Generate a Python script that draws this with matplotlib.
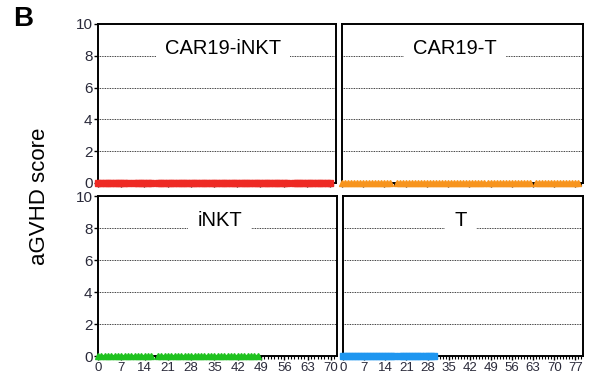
import numpy as np
import matplotlib
matplotlib.use("Agg")
import matplotlib.pyplot as plt
from matplotlib.ticker import MultipleLocator

plt.rcParams['font.family'] = ['Liberation Sans', 'DejaVu Sans']

nan = np.nan

# days after injection, aGVHD score (nan = no measurement that day)
car19_inkt_days = [0, 1, 2, 3, 4, 5, 6, 7, 8, 9, 10, 11, 12, 13, 14, 15, 16, 17, 18, 19,
                   20, 21, 22, 23, 24, 25, 26, 27, 28, 29, 30, 31, 32, 33, 34, 35, 36, 37, 38, 39,
                   40, 41, 42, 43, 44, 45, 46, 47, 48, 49, 50, 51, 52, 53, 54, 55, 56, 57, 58, 59,
                   60, 61, 62, 63, 64, 65, 66, 67, 68, 69, 70]
car19_inkt_score = [0, 0, 0, 0, 0, 0, 0, 0, 0, 0, nan, 0, 0, 0, 0, 0, 0, nan, 0, 0,
                    0, 0, 0, 0, 0, 0, 0, 0, 0, 0, 0, 0, 0, 0, 0, 0, 0, 0, 0, 0,
                    0, 0, 0, 0, 0, 0, 0, 0, 0, 0, 0, 0, 0, 0, 0, 0, 0, 0, nan, 0,
                    0, 0, 0, 0, 0, 0, 0, 0, 0, 0, 0]

car19_t_days = [0, 1, 2, 3, 4, 5, 6, 7, 8, 9, 10, 11, 12, 13, 14, 15, 16, 17, 18, 19,
                20, 21, 22, 23, 24, 25, 26, 27, 28, 29, 30, 31, 32, 33, 34, 35, 36, 37, 38, 39,
                40, 41, 42, 43, 44, 45, 46, 47, 48, 49, 50, 51, 52, 53, 54, 55, 56, 57, 58, 59,
                60, 61, 62, 63, 64, 65, 66, 67, 68, 69, 70, 71, 72, 73, 74, 75, 76, 77, 78]
car19_t_score = [0, 0, 0, 0, 0, 0, 0, 0, 0, 0, 0, 0, 0, 0, 0, 0, 0, nan, 0, 0,
                 0, 0, 0, 0, 0, 0, 0, 0, 0, 0, 0, 0, 0, 0, 0, 0, 0, 0, 0, 0,
                 0, 0, 0, 0, 0, 0, 0, 0, 0, 0, 0, 0, 0, 0, 0, 0, 0, 0, 0, 0,
                 0, 0, 0, nan, 0, 0, 0, 0, 0, 0, 0, 0, 0, 0, 0, 0, 0, 0, 0]

inkt_days = [0, 1, 2, 3, 4, 5, 6, 7, 8, 9, 10, 11, 12, 13, 14, 15, 16, 17, 18, 19,
             20, 21, 22, 23, 24, 25, 26, 27, 28, 29, 30, 31, 32, 33, 34, 35, 36, 37, 38, 39,
             40, 41, 42, 43, 44, 45, 46, 47, 48]
inkt_score = [0, 0, 0, 0, 0, 0, 0, 0, 0, 0, 0, 0, 0, 0, 0, 0, 0, nan, 0, 0,
              0, 0, 0, 0, 0, 0, 0, 0, 0, 0, 0, 0, 0, 0, 0, 0, 0, 0, 0, 0,
              0, 0, 0, 0, 0, 0, 0, 0, 0]

t_days = [0, 1, 2, 3, 4, 5, 6, 7, 8, 9, 10, 11, 12, 13, 14, 15, 16, 17, 18, 19,
          20, 21, 22, 23, 24, 25, 26, 27, 28, 29, 30]
t_score = [0, 0, 0, 0, 0, 0, 0, 0, 0, 0, 0, 0, 0, 0, 0, 0, 0, 0, nan, 0,
           0, 0, 0, 0, 0, 0, 0, 0, 0, 0, 0]

panels = [
    # label, days, score, colour, marker, rect, xmax, title x, bottom row, left col
    ("CAR19-iNKT", car19_inkt_days, car19_inkt_score, '#ee2a24', 's',
     [0.1644, 0.5247, 0.3993, 0.4130], 71.8, 0.525, False, True),
    ("CAR19-T", car19_t_days, car19_t_score, '#f7941d', '^',
     [0.5738, 0.5247, 0.4044, 0.4130], 79.5, 0.47, False, False),
    ("iNKT", inkt_days, inkt_score, '#1fc21f', '^',
     [0.1644, 0.0753, 0.4010, 0.4156], 71.8, 0.51, True, True),
    ("T", t_days, t_score, '#1e96f0', 's',
     [0.5755, 0.0753, 0.4027, 0.4156], 79.5, 0.49, True, False),
]

fig = plt.figure(figsize=(5.96, 3.85), dpi=100)
tick_col = '#2a2a3a'

for label, days, score, col, mk, rect, xmax, tx, bottom, left in panels:
    ax = fig.add_axes(rect)
    for lvl in [2, 4, 6, 8]:
        ax.axhline(lvl, color='black', lw=0.6, ls=(0, (1, 1)), zorder=1)
    ax.plot(days, score, color=col, marker=mk, ms=4.0, lw=2.5, mec=col,
            clip_on=False, zorder=5)
    ax.set_xlim(0, xmax)
    ax.set_ylim(0, 10)
    ax.xaxis.set_major_locator(MultipleLocator(7))
    ax.xaxis.set_minor_locator(MultipleLocator(1))
    ax.yaxis.set_major_locator(MultipleLocator(2))
    for s in ax.spines.values():
        s.set_linewidth(1.4)
    ax.tick_params(axis='x', which='major', direction='out', length=3, width=1,
                   labelsize=9.5, pad=1.5, labelcolor=tick_col)
    ax.tick_params(axis='x', which='minor', direction='out', length=2, width=0.8)
    ax.tick_params(axis='y', direction='out', length=3, width=1,
                   labelsize=11, pad=1, labelcolor=tick_col)
    if not bottom:
        ax.tick_params(axis='x', labelbottom=False)
    if not left:
        ax.tick_params(axis='y', left=False, labelleft=False)
    ax.text(tx * xmax, 8.12, label, ha='center', va='baseline', fontsize=14.5, zorder=3,
            bbox=dict(boxstyle='square,pad=0.45', fc='white', ec='none'))

fig.text(0.067, 0.49, "aGVHD score", rotation=90, ha='center', va='center', fontsize=16)
fig.text(0.022, 0.985, "B", ha='left', va='top', fontsize=20, fontweight='bold')

fig.savefig("out.png", dpi=100)
